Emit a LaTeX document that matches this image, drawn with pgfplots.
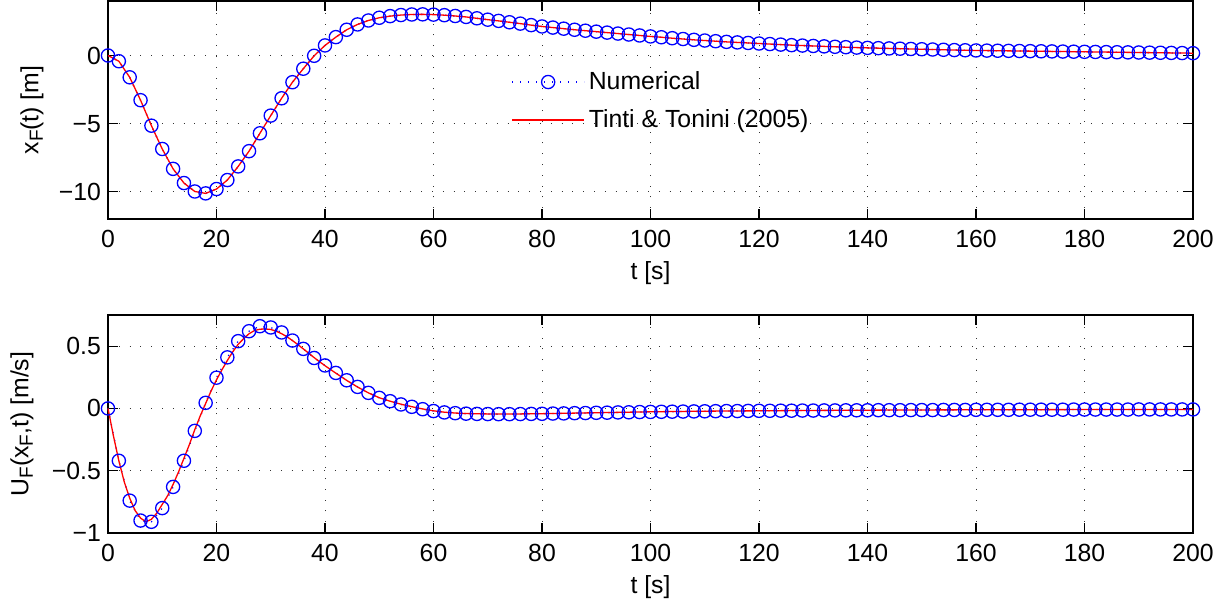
\documentclass[border=0pt]{standalone}
\usepackage{fontspec}
\setmainfont{Liberation Sans}
\usepackage{pgfplots}
\usepackage{pgfplotstable}
\pgfplotsset{compat=1.18}

% front position x_F(t), numerical (markers every 2 s)
\pgfplotstableread{
t x
0 0
2 -0.42
4 -1.60
6 -3.28
8 -5.15
10 -6.86
12 -8.32
14 -9.36
16 -9.98
18 -10.12
20 -9.80
22 -9.14
24 -8.14
26 -7.02
28 -5.71
30 -4.41
32 -3.14
34 -1.96
36 -0.97
38 -0.02
40 0.74
42 1.35
44 1.89
46 2.28
48 2.57
50 2.77
52 2.89
54 2.97
56 3.01
58 3.02
60 3.00
62 2.96
64 2.90
66 2.83
68 2.73
70 2.63
72 2.54
74 2.44
76 2.34
78 2.23
80 2.13
82 2.05
84 1.97
86 1.89
88 1.82
90 1.75
92 1.68
94 1.61
96 1.54
98 1.47
100 1.40
102 1.34
104 1.27
106 1.21
108 1.15
110 1.10
112 1.05
114 1.00
116 0.96
118 0.92
120 0.88
122 0.84
124 0.80
126 0.76
128 0.73
130 0.70
132 0.67
134 0.64
136 0.61
138 0.58
140 0.56
142 0.54
144 0.52
146 0.50
148 0.48
150 0.46
152 0.44
154 0.42
156 0.40
158 0.385
160 0.37
162 0.36
164 0.35
166 0.34
168 0.33
170 0.32
172 0.31
174 0.30
176 0.29
178 0.28
180 0.27
182 0.26
184 0.25
186 0.24
188 0.23
190 0.22
192 0.21
194 0.20
196 0.19
198 0.18
200 0.17
}\topnum

% front velocity U_F, numerical
\pgfplotstableread{
t u
0 0
2 -0.42
4 -0.74
6 -0.90
8 -0.91
10 -0.80
12 -0.63
14 -0.42
16 -0.18
18 0.045
20 0.247
22 0.41
24 0.54
26 0.62
28 0.66
30 0.65
32 0.61
34 0.545
36 0.478
38 0.405
40 0.345
42 0.285
44 0.226
46 0.173
48 0.125
50 0.085
52 0.058
54 0.032
56 0.013
58 -0.006
60 -0.021
62 -0.032
64 -0.038
66 -0.042
68 -0.044
70 -0.045
72 -0.046
74 -0.046
76 -0.045
78 -0.044
80 -0.043
82 -0.041
84 -0.040
86 -0.038
88 -0.037
90 -0.035
92 -0.034
94 -0.032
96 -0.031
98 -0.029
100 -0.028
102 -0.027
104 -0.026
106 -0.025
108 -0.024
110 -0.023
112 -0.022
114 -0.021
116 -0.021
118 -0.020
120 -0.019
122 -0.019
124 -0.018
126 -0.018
128 -0.017
130 -0.017
132 -0.016
134 -0.016
136 -0.015
138 -0.015
140 -0.015
142 -0.014
144 -0.014
146 -0.014
148 -0.013
150 -0.013
152 -0.013
154 -0.012
156 -0.012
158 -0.012
160 -0.011
162 -0.011
164 -0.011
166 -0.011
168 -0.010
170 -0.010
172 -0.010
174 -0.010
176 -0.010
178 -0.009
180 -0.009
182 -0.009
184 -0.009
186 -0.009
188 -0.009
190 -0.008
192 -0.008
194 -0.008
196 -0.008
198 -0.008
200 -0.008
}\botnum

% front velocity, analytical (Tinti & Tonini 2005)
\pgfplotstableread{
t u
0 0
1 -0.22
2 -0.42
3 -0.59
4 -0.72
5 -0.82
6 -0.88
7 -0.91
8 -0.89
9 -0.84
10 -0.77
11 -0.70
12 -0.61
13 -0.51
14 -0.40
15 -0.29
16 -0.17
17 -0.06
18 0.04
19 0.14
20 0.23
21 0.31
22 0.385
23 0.455
24 0.515
25 0.56
26 0.60
27 0.625
28 0.636
29 0.638
30 0.634
31 0.62
32 0.60
33 0.575
34 0.545
35 0.512
36 0.478
37 0.443
38 0.408
39 0.375
40 0.343
42 0.283
44 0.225
46 0.172
48 0.125
50 0.086
52 0.058
54 0.034
56 0.014
58 -0.004
60 -0.019
62 -0.030
64 -0.037
66 -0.041
68 -0.043
70 -0.044
72 -0.045
74 -0.045
76 -0.044
78 -0.043
80 -0.042
84 -0.039
88 -0.036
92 -0.033
96 -0.030
100 -0.027
110 -0.022
120 -0.019
130 -0.016
140 -0.014
150 -0.012
160 -0.011
170 -0.010
180 -0.009
190 -0.008
200 -0.008
}\botana

\newcommand\lblfont{\fontsize{12.4}{14}\selectfont}
\newcommand\sub[1]{\raisebox{-0.35ex}{\fontsize{9.5}{10}\selectfont #1}}

\pgfplotsset{
  mlab/.style={
    width=542.5pt, height=109pt, scale only axis,
    xmin=0, xmax=200, xtick={0,20,...,200},
    tick align=inside, major tick length=5pt,
    axis line style={line width=0.6pt},
    every tick/.style={black,line width=0.6pt},
    grid=major,
    grid style={black!80, line width=0.5pt, dash pattern=on 0.5pt off 4.9pt},
    tick label style={font=\lblfont},
    label style={font=\lblfont},
    /pgf/number format/assume math mode=true,
    xticklabel style={yshift=-2pt},
    clip=false,
    xlabel={t [s]},
    x label style={at={(axis description cs:0.5,0)},anchor=center,yshift=-27pt},
  },
  num/.style={color=blue, draw=blue, line width=0.65pt, dash pattern=on 0.6pt off 3.4pt,
    mark=o, mark size=3.3pt, mark options={solid,draw=blue}},
  ana/.style={color=red, draw=red, line width=0.65pt},
}

\begin{document}
\begin{tikzpicture}
\begin{axis}[mlab, anchor=north west, at={(54pt,-0.5pt)},
  ymin=-12, ymax=4, ytick={-10,-5,0}, yticklabels={−10,−5,0},
  ylabel={x\sub{F}(t) [m]},
  y label style={at={([xshift=-38pt]axis description cs:0,0.5)},anchor=center},
  legend style={at={(rel axis cs:0.366,0.715)}, anchor=north west, draw=none, fill=none,
    font=\lblfont, row sep=4.5pt, legend cell align=left},
  legend image code/.code={\draw[mark repeat=2,mark phase=2,#1] plot coordinates {(0pt,0pt) (18pt,0pt) (36pt,0pt)};}]
\addplot[num] table {\topnum};
\addplot[ana] table {\topnum};
\legend{Numerical, Tinti \& Tonini (2005)}
\end{axis}
\begin{axis}[mlab, anchor=north west, at={(54pt,-157.5pt)},
  ymin=-1, ymax=0.75, ytick={-1,-0.5,0,0.5}, yticklabels={−1,−0.5,0,0.5},
  ylabel={U\sub{F}(x\sub{F},t) [m/s]},
  y label style={at={([xshift=-43pt]axis description cs:0,0.5)},anchor=center}]
\addplot[num] table {\botnum};
\addplot[ana] table {\botana};
\end{axis}
\pgfresetboundingbox
\path[use as bounding box] (0pt,0pt) rectangle (615pt,-302.5pt);
\end{tikzpicture}
\end{document}
